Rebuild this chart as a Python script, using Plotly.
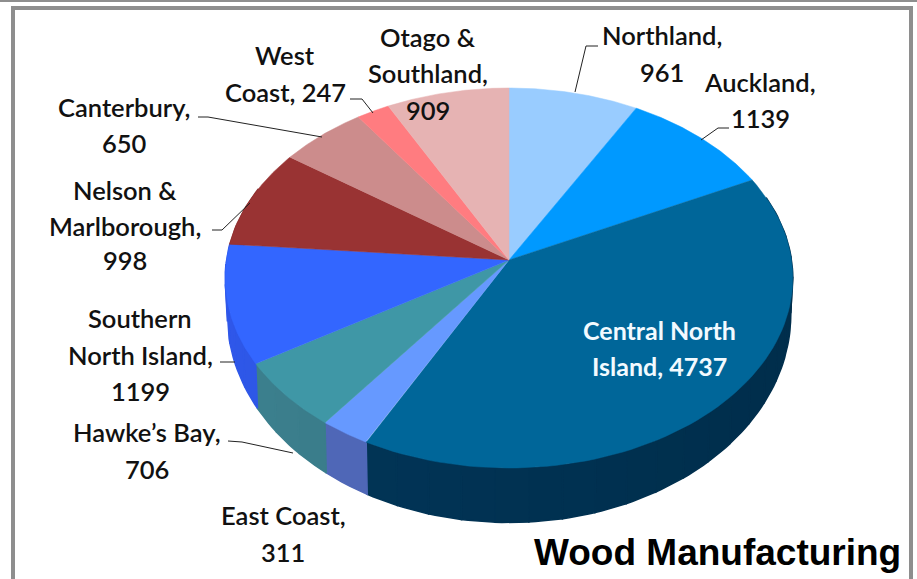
import numpy as np
import plotly.graph_objects as go

# ---- data ----
regions = ["Northland", "Auckland", "Central North Island", "East Coast", "Hawke's Bay",
           "Southern North Island", "Nelson & Marlborough", "Canterbury", "West Coast",
           "Otago & Southland"]
values = [961, 1139, 4737, 311, 706, 1199, 998, 650, 247, 909]
top_colors = ["#99CCFF", "#0099FF", "#006699", "#6699FF", "#3F97A6",
              "#3366FF", "#993333", "#CC8C8C", "#FF7C80", "#E6B3B3"]
side_colors = ["#7FAAD5", "#007FD5", "#013252", "#4B62AE", "#377683",
               "#2B50D5", "#7F2A2A", "#AA7575", "#D56769", "#C09595"]
label_lines = [("West", 285, 55), ("Coast, 247", 285, 92),
               ("Otago &", 428, 37), ("Southland,", 428, 73), ("909", 428, 110),
               ("Northland,", 662, 35), ("961", 662, 72),
               ("Auckland,", 760, 82), ("1139", 760, 118),
               ("Canterbury,", 124, 107), ("650", 124, 143),
               ("Nelson &", 125, 190), ("Marlborough,", 125, 226), ("998", 125, 260),
               ("Southern", 140, 318), ("North Island,", 140, 355), ("1199", 140, 391),
               ("Hawke\u2019s Bay,", 147, 432), ("706", 147, 469),
               ("East Coast,", 283, 515), ("311", 283, 552)]
inner_lines = [("Central North", 659, 330), ("Island, 4737", 659, 366)]
leaders = [[(598, 46), (586, 46), (575, 92)],
           [(729, 128), (718, 128), (701, 140)],
           [(350, 99), (362, 99), (373, 113)],
           [(198, 117), (208, 117), (322, 137)],
           [(212, 230), (222, 230), (250, 203)],
           [(220, 362), (235, 362)],
           [(228, 441), (242, 442), (293, 453)]]

# ---- pie projection (plot units = pixels) ----
CX, CY, K = 509, 260, 0.0947
TOP = (282.5, 188.3, 0)
BOT = (280.5, 206, 35)


def project(theta, geom):
    sx, sy, dy = geom
    X, Y = np.sin(theta), np.cos(theta)
    d = 1 + K * Y
    return CX + sx * X / d, CY + dy - sy * Y / d


def shade(color, f):
    r, g, b = int(color[1:3], 16), int(color[3:5], 16), int(color[5:7], 16)
    return "rgb(%d,%d,%d)" % (min(255, r * f), min(255, g * f), min(255, b * f))


fractions = np.array(values) / sum(values)
edges = np.concatenate([[0], np.cumsum(fractions)]) * 2 * np.pi

fig = go.Figure()

# side wall strips
for i in range(len(values)):
    a0, a1 = edges[i], edges[i + 1]
    n = max(1, int((a1 - a0) / np.radians(6)))
    for j in range(n):
        t0 = a0 + (a1 - a0) * j / n
        t1 = a0 + (a1 - a0) * (j + 1) / n
        if np.cos((t0 + t1) / 2) > 0.35:
            continue
        th = np.linspace(t0, t1, 6)
        xt, yt = project(th, TOP)
        xb, yb = project(th, BOT)
        f = 1.0 + 0.18 * np.clip((1 - np.sin((t0 + t1) / 2)) / 2 - 0.45, -0.4, 0.6)
        col = shade(side_colors[i], f)
        fig.add_trace(go.Scatter(
            x=np.concatenate([xt, xb[::-1], xt[:1]]), y=np.concatenate([yt, yb[::-1], yt[:1]]),
            mode="lines", fill="toself", fillcolor=col, line=dict(color=col, width=1.5),
            hoverinfo="skip", showlegend=False))

# top wedges
for i, name in enumerate(regions):
    th = np.linspace(edges[i], edges[i + 1], 80)
    xr, yr = project(th, TOP)
    fig.add_trace(go.Scatter(
        x=np.concatenate([[CX], xr, [CX]]), y=np.concatenate([[CY], yr, [CY]]),
        mode="lines", fill="toself", fillcolor=top_colors[i],
        line=dict(color=top_colors[i], width=0.5),
        name=name, hovertemplate=f"{name}: {values[i]}<extra></extra>", showlegend=False))

# leader lines
for pts in leaders:
    fig.add_trace(go.Scatter(x=[p[0] for p in pts], y=[p[1] for p in pts], mode="lines",
                             line=dict(color="#222222", width=1),
                             hoverinfo="skip", showlegend=False))

annotations = []
for txt, x, y in label_lines:
    annotations.append(dict(x=x, y=y, xref="x", yref="y", text=txt, showarrow=False,
                            font=dict(family="Lato", size=25.5, weight=600, color="#111111")))
for txt, x, y in inner_lines:
    annotations.append(dict(x=x, y=y, xref="x", yref="y", text=f"<b>{txt}</b>", showarrow=False,
                            font=dict(family="Lato", size=25, color="#F2FAFF")))
annotations.append(dict(x=903, y=552, xref="x", yref="y", xanchor="right",
                        text="<b>Wood Manufacturing</b>", showarrow=False,
                        font=dict(family="Liberation Sans", size=37, color="#000000")))

frame = "#8E8E8E"
shapes = [
    dict(type="rect", x0=0, x1=917, y0=0, y1=2, fillcolor=frame, line_width=0, layer="below"),
    dict(type="rect", x0=11, x1=15, y0=6, y1=579, fillcolor=frame, line_width=0, layer="below"),
    dict(type="rect", x0=11, x1=913, y0=6, y1=10, fillcolor=frame, line_width=0, layer="below"),
    dict(type="rect", x0=909, x1=913, y0=6, y1=579, fillcolor=frame, line_width=0, layer="below"),
]

fig.update_layout(
    width=917, height=579, margin=dict(l=0, r=0, t=0, b=0),
    paper_bgcolor="white", plot_bgcolor="white", showlegend=False,
    xaxis=dict(range=[0, 917], visible=False, fixedrange=True),
    yaxis=dict(range=[579, 0], visible=False, fixedrange=True),
    annotations=annotations, shapes=shapes)
fig.write_html("out.html", config={"displayModeBar": False},
               post_script="document.body.style.margin='0';document.body.style.overflow='hidden';window.dispatchEvent(new Event('resize'));")
